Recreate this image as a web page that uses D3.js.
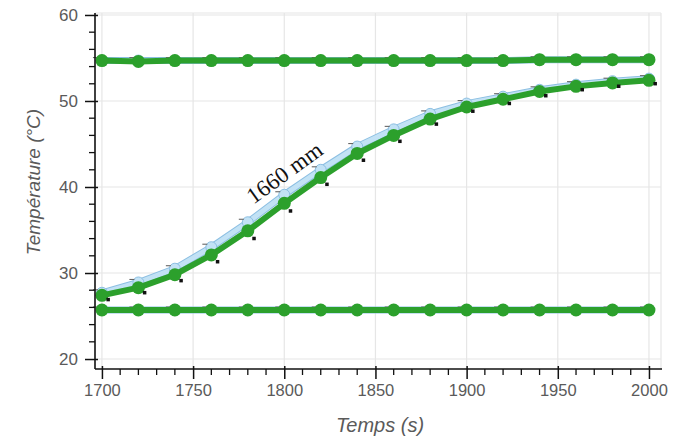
<!DOCTYPE html>
<html>
<head>
<meta charset="utf-8">
<script src="https://cdn.jsdelivr.net/npm/d3@7"></script>
<style>
  html, body { margin: 0; padding: 0; background: #fff; }
  svg { display: block; }
</style>
</head>
<body>
<svg id="chart" width="686" height="440"></svg>
<script>
// ---- data ----
const times = [1700, 1720, 1740, 1760, 1780, 1800, 1820, 1840, 1860, 1880, 1900, 1920, 1940, 1960, 1980, 2000];
const riseGreen = [27.4, 28.3, 29.8, 32.1, 34.9, 38.1, 41.1, 43.9, 46.0, 47.9, 49.3, 50.2, 51.1, 51.7, 52.1, 52.4];
const riseBlue  = [27.7, 28.9, 30.5, 33.0, 35.9, 39.1, 42.0, 44.7, 46.7, 48.5, 49.7, 50.5, 51.3, 51.9, 52.3, 52.6];
const riseLowTimes = [1703, 1723, 1743, 1763, 1783, 1803, 1823, 1843, 1863, 1883, 1903, 1923, 1943, 1963, 1983, 2003];
const riseLow   = [27.0, 27.8, 29.2, 31.4, 34.1, 37.3, 40.4, 43.2, 45.4, 47.4, 48.9, 49.8, 50.7, 51.4, 51.8, 52.1];
const topGreen    = [54.7, 54.6, 54.7, 54.7, 54.7, 54.7, 54.7, 54.7, 54.7, 54.7, 54.7, 54.7, 54.8, 54.8, 54.8, 54.8];
const topBlue     = [54.7, 54.7, 54.7, 54.7, 54.7, 54.7, 54.7, 54.7, 54.7, 54.7, 54.7, 54.7, 54.8, 54.8, 54.8, 54.8];
const bottomGreen = [25.7, 25.7, 25.7, 25.7, 25.7, 25.7, 25.7, 25.7, 25.7, 25.7, 25.7, 25.7, 25.7, 25.7, 25.7, 25.7];
const bottomBlue  = [25.7, 25.7, 25.7, 25.7, 25.7, 25.7, 25.7, 25.7, 25.7, 25.7, 25.7, 25.7, 25.7, 25.7, 25.7, 25.7];
const xMajorTicks = [1700, 1750, 1800, 1850, 1900, 1950, 2000];
const yMajorTicks = [20, 30, 40, 50, 60];
const xTitle = "Temps (s)";
const yTitle = "Température (°C)";
const annotation = "1660 mm";

// ---- layout ----
const pLeft = 95, pRight = 661, pTop = 13, pBottom = 369;
const x = d3.scaleLinear().domain([1696.2, 2006.6]).range([pLeft, pRight]);
const y = d3.scaleLinear().domain([18.84, 60.23]).range([pBottom, pTop]);

const svg = d3.select("#chart");
const GREEN = "#2ca02c";
const FONT = "Liberation Sans, Arial, sans-serif";

// grid
const grid = svg.append("g");
grid.selectAll("line.gx").data(xMajorTicks).join("line")
  .attr("x1", d => x(d)).attr("x2", d => x(d)).attr("y1", pTop).attr("y2", pBottom)
  .attr("stroke", "#e6e6e6").attr("stroke-width", 1.2);
grid.selectAll("line.gy").data(yMajorTicks).join("line")
  .attr("x1", pLeft).attr("x2", pRight).attr("y1", d => y(d)).attr("y2", d => y(d))
  .attr("stroke", "#e6e6e6").attr("stroke-width", 1.2);
grid.append("line").attr("x1", pLeft).attr("x2", pRight).attr("y1", pTop).attr("y2", pTop)
  .attr("stroke", "#e6e6e6").attr("stroke-width", 1.2);
grid.append("line").attr("x1", pRight).attr("x2", pRight).attr("y1", pTop).attr("y2", pBottom)
  .attr("stroke", "#e6e6e6").attr("stroke-width", 1.2);

const line = d3.line().x(d => x(d[0])).y(d => y(d[1]));
const zip = (ts, vs) => ts.map((t, i) => [t, vs[i]]);

const blueSets = [zip(times, riseBlue), zip(times, topBlue), zip(times, bottomBlue)];
const greenSets = [zip(times, riseGreen), zip(times, topGreen), zip(times, bottomGreen)];

// blue series
blueSets.forEach(pts => {
  svg.append("path").attr("d", line(pts)).attr("fill", "none")
    .attr("stroke", "#8cbfe2").attr("stroke-width", 7).attr("stroke-linejoin", "round");
  svg.append("path").attr("d", line(pts)).attr("fill", "none")
    .attr("stroke", "#c2e2f5").attr("stroke-width", 5).attr("stroke-linejoin", "round");
  svg.append("g").selectAll("circle").data(pts).join("circle")
    .attr("cx", d => x(d[0])).attr("cy", d => y(d[1])).attr("r", 5.5)
    .attr("fill", "#c2e2f5").attr("stroke", "#8cbfe2").attr("stroke-width", 1);
  svg.append("g").selectAll("line").data(pts).join("line")
    .attr("x1", d => x(d[0]) - 9).attr("x2", d => x(d[0]) - 4)
    .attr("y1", d => y(d[1]) - 3).attr("y2", d => y(d[1]) - 3)
    .attr("stroke", "#666").attr("stroke-width", 1.1);
});

// green series
greenSets.forEach(pts => {
  svg.append("path").attr("d", line(pts)).attr("fill", "none")
    .attr("stroke", GREEN).attr("stroke-width", 6).attr("stroke-linejoin", "round");
  svg.append("g").selectAll("circle").data(pts).join("circle")
    .attr("cx", d => x(d[0])).attr("cy", d => y(d[1])).attr("r", 6.5)
    .attr("fill", GREEN);
});

// small black squares (lower series)
svg.append("g").selectAll("rect").data(zip(riseLowTimes, riseLow)).join("rect")
  .attr("x", d => x(d[0]) - 1).attr("y", d => y(d[1]) - 1).attr("width", 3.5).attr("height", 3.5)
  .attr("fill", "#111");

// axes
const yMinor = d3.range(20, 60, 2).filter(v => v % 10 !== 0);
const xMinor = d3.range(1700, 2001, 10).filter(v => v % 50 !== 0);

const yAx = svg.append("g").attr("transform", `translate(${pLeft},0)`);
yAx.call(d3.axisLeft(y).tickValues(yMajorTicks).tickSize(10).tickPadding(7).tickFormat(d3.format("d")));
yAx.select(".domain").remove();
yAx.selectAll(".tick line").attr("x2", -10).attr("x1", 3).attr("stroke", "#111").attr("stroke-width", 1.5);
yAx.selectAll("text").attr("font-family", FONT).attr("font-size", 17).attr("fill", "#5a5a5a");
yAx.selectAll("line.minor").data(yMinor).join("line").attr("class", "minor")
  .attr("x1", -6).attr("x2", 0).attr("y1", d => y(d)).attr("y2", d => y(d))
  .attr("stroke", "#111").attr("stroke-width", 1.3);
yAx.append("line").attr("x1", 0).attr("x2", 0).attr("y1", pTop).attr("y2", pBottom)
  .attr("stroke", "#111").attr("stroke-width", 1.6);

const xAx = svg.append("g").attr("transform", `translate(0,${pBottom})`);
xAx.call(d3.axisBottom(x).tickValues(xMajorTicks).tickSize(10).tickPadding(5).tickFormat(d3.format("d")));
xAx.select(".domain").remove();
xAx.selectAll(".tick line").attr("y1", -3).attr("y2", 10).attr("stroke", "#111").attr("stroke-width", 1.5);
xAx.selectAll("text").attr("font-family", FONT).attr("font-size", 16.5).attr("fill", "#5a5a5a");
xAx.selectAll("line.minor").data(xMinor).join("line").attr("class", "minor")
  .attr("x1", d => x(d)).attr("x2", d => x(d)).attr("y1", 0).attr("y2", 6)
  .attr("stroke", "#111").attr("stroke-width", 1.3);
xAx.append("line").attr("x1", pLeft).attr("x2", pRight + 1).attr("y1", 0).attr("y2", 0)
  .attr("stroke", "#111").attr("stroke-width", 1.6);

// titles
svg.append("text").attr("x", 380).attr("y", 432).attr("text-anchor", "middle")
  .attr("font-family", FONT).attr("font-size", 20)
  .attr("font-style", "italic").attr("fill", "#5a5a5a").text(xTitle);
svg.append("text").attr("transform", "translate(40,182) rotate(-90)").attr("text-anchor", "middle")
  .attr("font-family", FONT).attr("font-size", 19)
  .attr("font-style", "italic").attr("fill", "#5a5a5a").text(yTitle);

// annotation
svg.append("text").attr("transform", "translate(289,179) rotate(-36)").attr("text-anchor", "middle")
  .attr("font-family", "Liberation Serif, Times New Roman, serif").attr("font-size", 23)
  .attr("fill", "#111").text(annotation);
</script>
</body>
</html>
